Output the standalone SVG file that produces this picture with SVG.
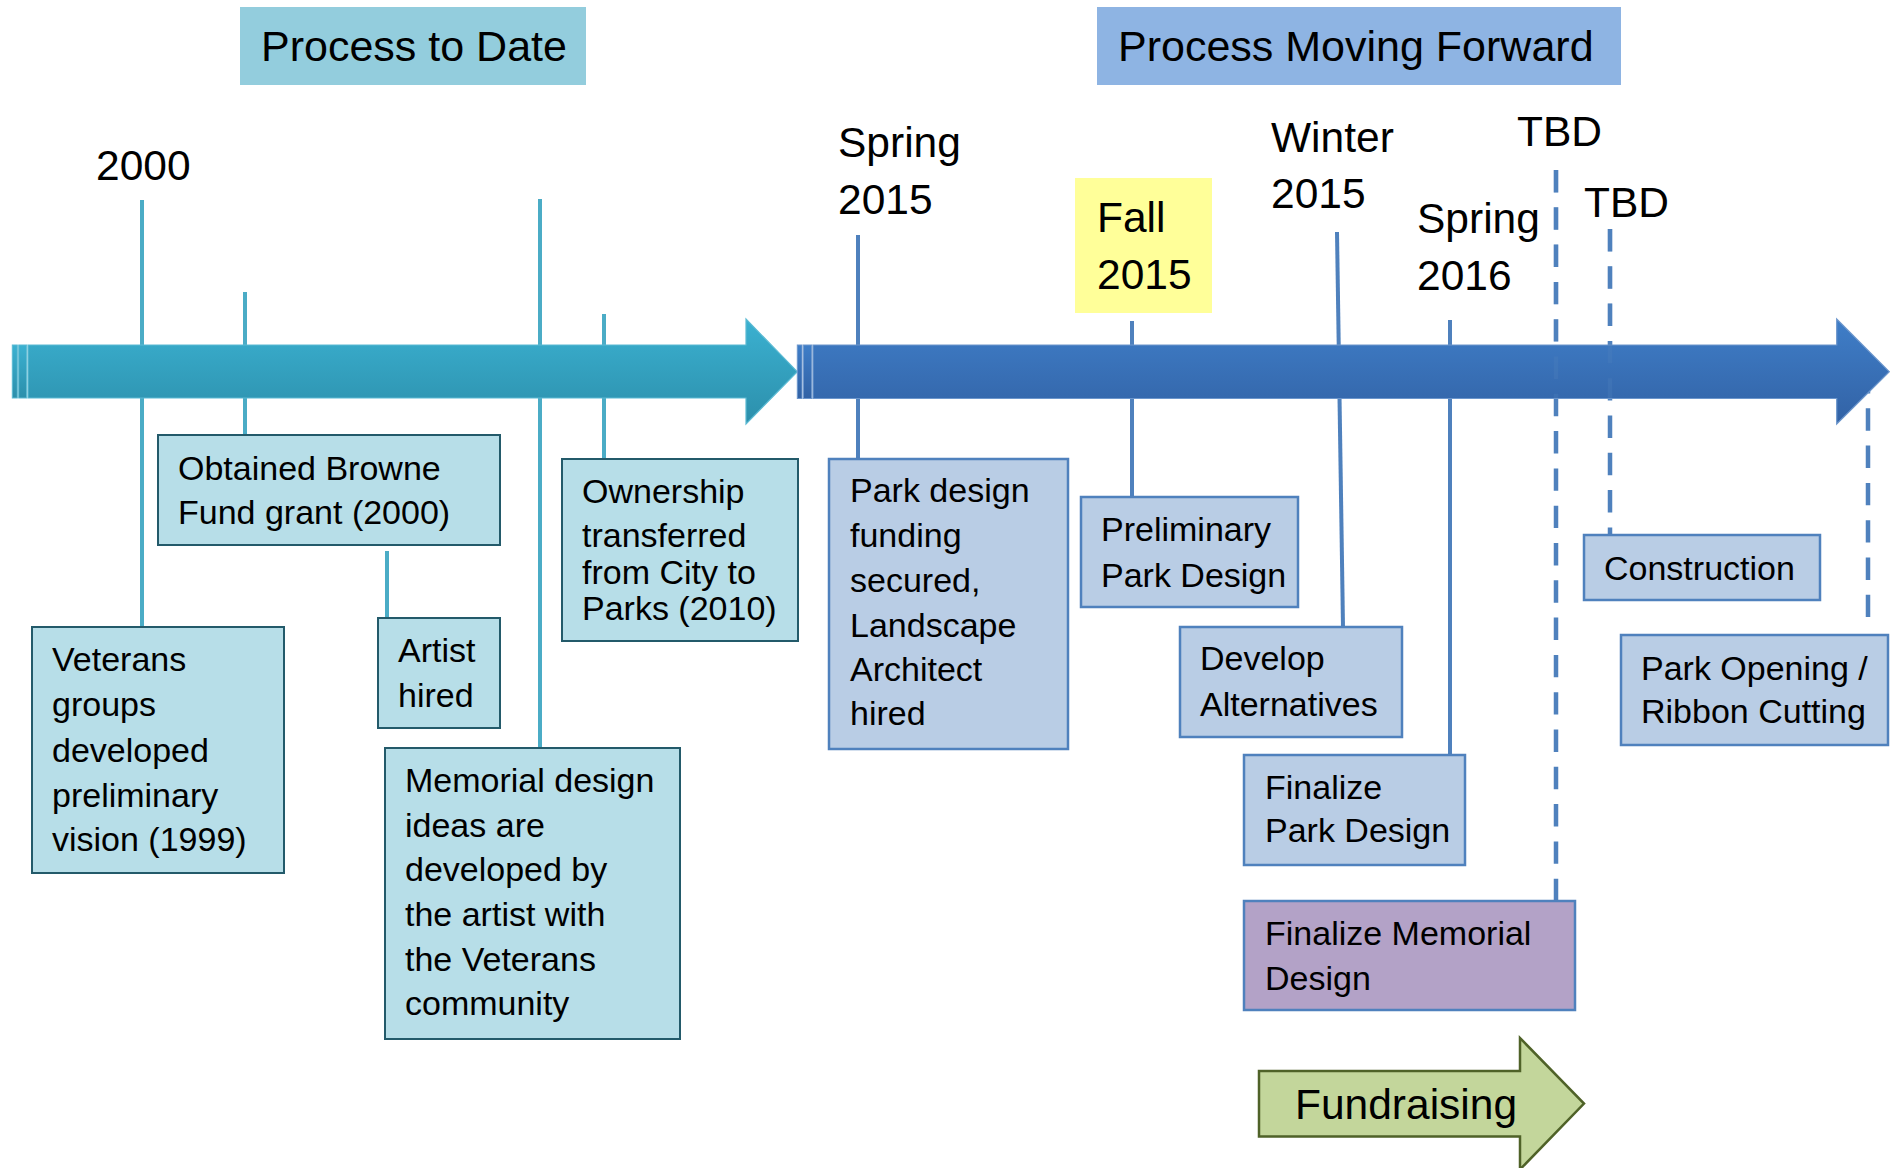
<svg xmlns="http://www.w3.org/2000/svg" width="1896" height="1168" viewBox="0 0 1896 1168">
<defs>
<linearGradient id="gTeal" x1="0" y1="0" x2="0" y2="1">
<stop offset="0" stop-color="#3BB1D1"/><stop offset="1" stop-color="#2C8FAB"/>
</linearGradient>
<linearGradient id="gBlue" x1="0" y1="0" x2="0" y2="1">
<stop offset="0" stop-color="#3F7EC8"/><stop offset="1" stop-color="#3262A5"/>
</linearGradient>
</defs>
<style>
text{font-family:"Liberation Sans",Arial,sans-serif;fill:#000}
.hdr{font-size:43px}
.date{font-size:42.5px}
.bt{font-size:34px}
.tl{stroke:#4BACC6;stroke-width:4;fill:none}
.bl{stroke:#4F81BD;stroke-width:4;fill:none}
.dl{stroke:#4F81BD;stroke-width:4.5;fill:none;stroke-dasharray:22.4 14.9}
.tbox{fill:#B7DEE8;stroke:#235A6A;stroke-width:2}
.bbox{fill:#B9CDE5;stroke:#4F81BD;stroke-width:2.5}
</style>
<rect width="1896" height="1168" fill="#FFFFFF"/>

<g id="header-to-date">
<rect x="240" y="7" width="346" height="78" fill="#93CDDD"/>
<text class="hdr" x="261" y="61">Process to Date</text>
</g>
<g id="header-forward">
<rect x="1097" y="7" width="524" height="78" fill="#8EB4E3"/>
<text class="hdr" x="1118" y="61">Process Moving Forward</text>
</g>

<g id="connectors">
<line class="tl" x1="142" y1="200" x2="142" y2="627"/>
<line class="tl" x1="245" y1="292" x2="245" y2="435"/>
<line class="tl" x1="387" y1="551" x2="387" y2="618"/>
<line class="tl" x1="540" y1="199" x2="540" y2="747"/>
<line class="tl" x1="604" y1="314" x2="604" y2="459"/>
<line class="bl" x1="858" y1="235" x2="858" y2="459"/>
<line class="bl" x1="1132" y1="321" x2="1132" y2="497"/>
<line class="bl" x1="1337" y1="232" x2="1343" y2="627"/>
<line class="bl" x1="1450" y1="320" x2="1450" y2="755"/>
<line class="dl" x1="1556" y1="170" x2="1556" y2="901"/>
<line class="dl" x1="1610" y1="229" x2="1610" y2="535"/>
<line class="dl" x1="1868" y1="371" x2="1868" y2="617"/>
</g>

<g id="timeline-past">
<rect x="12.3" y="345" width="5" height="53" fill="url(#gTeal)" stroke="#5BBAD3" stroke-width="1"/>
<rect x="18.7" y="345" width="8" height="53" fill="url(#gTeal)" stroke="#5BBAD3" stroke-width="1"/>
<polygon points="28,345 746,345 746,319 797.3,371.7 746,424 746,398 28,398" fill="url(#gTeal)" stroke="#5BBAD3" stroke-width="1.2"/>
</g>
<g id="timeline-forward">
<rect x="797.3" y="345" width="4.7" height="53.5" fill="url(#gBlue)" stroke="#6C96CC" stroke-width="1"/>
<rect x="803.3" y="345" width="8.4" height="53.5" fill="url(#gBlue)" stroke="#6C96CC" stroke-width="1"/>
<polygon points="813,345 1836.7,345 1836.7,319 1889.3,371.7 1836.7,424 1836.7,398.5 813,398.5" fill="url(#gBlue)" stroke="#6C96CC" stroke-width="1.2"/>
<line class="dl" x1="1556" y1="170" x2="1556" y2="398" opacity="0.3"/>
<line class="dl" x1="1610" y1="229" x2="1610" y2="398" opacity="0.3"/>
</g>

<g id="date-2000"><text class="date" x="96" y="180">2000</text></g>
<g id="date-spring-2015"><text class="date"><tspan x="838" y="157">Spring</tspan><tspan x="838" y="214">2015</tspan></text></g>
<g id="date-fall-2015">
<rect x="1075" y="178" width="137" height="135" fill="#FFFF99"/>
<text class="date"><tspan x="1097" y="232">Fall</tspan><tspan x="1097" y="289">2015</tspan></text>
</g>
<g id="date-winter-2015"><text class="date"><tspan x="1271" y="152">Winter</tspan><tspan x="1271" y="208">2015</tspan></text></g>
<g id="date-spring-2016"><text class="date"><tspan x="1417" y="233">Spring</tspan><tspan x="1417" y="290">2016</tspan></text></g>
<g id="date-tbd-1"><text class="date" x="1517" y="146">TBD</text></g>
<g id="date-tbd-2"><text class="date" x="1584" y="217">TBD</text></g>

<g id="node-veterans">
<rect class="tbox" x="32" y="627" width="252" height="246"/>
<text class="bt"><tspan x="52" y="671">Veterans</tspan><tspan x="52" y="716">groups</tspan><tspan x="52" y="762">developed</tspan><tspan x="52" y="807">preliminary</tspan><tspan x="52" y="851">vision (1999)</tspan></text>
</g>
<g id="node-browne">
<rect class="tbox" x="158" y="435" width="342" height="110"/>
<text class="bt"><tspan x="178" y="480">Obtained Browne</tspan><tspan x="178" y="524">Fund grant (2000)</tspan></text>
</g>
<g id="node-artist">
<rect class="tbox" x="378" y="618" width="122" height="110"/>
<text class="bt"><tspan x="398" y="662">Artist</tspan><tspan x="398" y="707">hired</tspan></text>
</g>
<g id="node-memorial">
<rect class="tbox" x="385" y="748" width="295" height="291"/>
<text class="bt"><tspan x="405" y="792">Memorial design</tspan><tspan x="405" y="837">ideas are</tspan><tspan x="405" y="881">developed by</tspan><tspan x="405" y="926">the artist with</tspan><tspan x="405" y="971">the Veterans</tspan><tspan x="405" y="1015">community</tspan></text>
</g>
<g id="node-ownership">
<rect class="tbox" x="562" y="459" width="236" height="182"/>
<text class="bt"><tspan x="582" y="503">Ownership</tspan><tspan x="582" y="547">transferred</tspan><tspan x="582" y="584">from City to</tspan><tspan x="582" y="620">Parks (2010)</tspan></text>
</g>
<g id="node-park-funding">
<rect class="bbox" x="829" y="459" width="239" height="290"/>
<text class="bt"><tspan x="850" y="502">Park design</tspan><tspan x="850" y="547">funding</tspan><tspan x="850" y="592">secured,</tspan><tspan x="850" y="637">Landscape</tspan><tspan x="850" y="681">Architect</tspan><tspan x="850" y="725">hired</tspan></text>
</g>
<g id="node-preliminary">
<rect class="bbox" x="1081" y="497" width="217" height="110"/>
<text class="bt"><tspan x="1101" y="541">Preliminary</tspan><tspan x="1101" y="587">Park Design</tspan></text>
</g>
<g id="node-alternatives">
<rect class="bbox" x="1180" y="627" width="222" height="110"/>
<text class="bt"><tspan x="1200" y="670">Develop</tspan><tspan x="1200" y="716">Alternatives</tspan></text>
</g>
<g id="node-finalize-park">
<rect class="bbox" x="1244" y="755" width="221" height="110"/>
<text class="bt"><tspan x="1265" y="799">Finalize</tspan><tspan x="1265" y="842">Park Design</tspan></text>
</g>
<g id="node-finalize-memorial">
<rect x="1244" y="901" width="331" height="109" fill="#B3A2C7" stroke="#4F81BD" stroke-width="2.5"/>
<text class="bt"><tspan x="1265" y="945">Finalize Memorial</tspan><tspan x="1265" y="990">Design</tspan></text>
</g>
<g id="node-construction">
<rect class="bbox" x="1584" y="535" width="236" height="65"/>
<text class="bt" x="1604" y="580">Construction</text>
</g>
<g id="node-opening">
<rect class="bbox" x="1621" y="635" width="267" height="110"/>
<text class="bt"><tspan x="1641" y="680">Park Opening /</tspan><tspan x="1641" y="723">Ribbon Cutting</tspan></text>
</g>
<g id="node-fundraising">
<polygon points="1259,1071 1520,1071 1520,1038 1584,1103.6 1520,1169.5 1520,1136.6 1259,1136.6" fill="#C3D69B" stroke="#4F6228" stroke-width="2.5"/>
<text x="1295" y="1119" style="font-size:42.5px">Fundraising</text>
</g>
</svg>
